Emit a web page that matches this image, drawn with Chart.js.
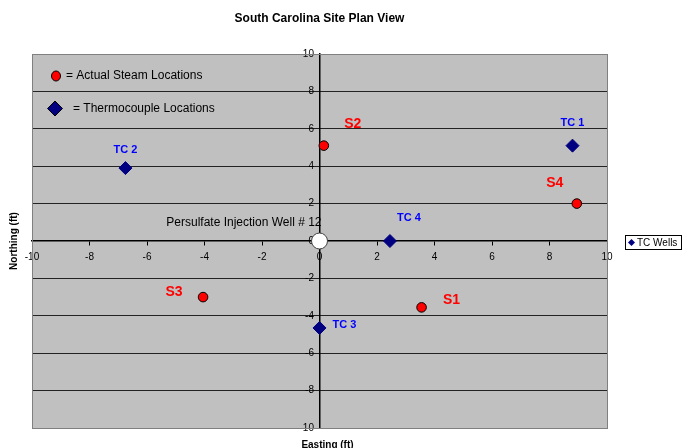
<!DOCTYPE html>
<html>
<head>
<meta charset="utf-8">
<script src="https://cdn.jsdelivr.net/npm/chart.js@4.4.0/dist/chart.umd.min.js"></script>
<style>
  html, body { margin: 0; padding: 0; background: #fff; }
</style>
</head>
<body>
<canvas id="myChart" width="682" height="448"></canvas>
<script>
// thermocouple wells
const tcNames = ['TC 1', 'TC 2', 'TC 3', 'TC 4'];
const tcEast = [8.8, -6.75, 0, 2.45];
const tcNorth = [5.1, 3.9, -4.65, 0];

// actual steam locations
const steamNames = ['S1', 'S2', 'S3', 'S4'];
const steamEast = [3.55, 0.15, -4.05, 8.95];
const steamNorth = [-3.55, 5.1, -3.0, 2.0];

// injection well
const wellName = 'Persulfate Injection Well # 12';
const wellEast = [0];
const wellNorth = [0];

const axisTicks = [-10, -8, -6, -4, -2, 0, 2, 4, 6, 8, 10];

// label offsets in pixels from each point
const tcLabelOffset = [[0, -23], [0, -18], [25, -3], [19, -23]];
const steamLabelOffset = [[30, -7], [29, -21], [-29, -5], [-22, -20]];

function toPoints(xs, ys) {
  return xs.map((x, i) => ({x: x, y: ys[i]}));
}

const plotDecor = {
  id: 'plotDecor',
  beforeDraw(chart) {
    const c = chart.ctx, a = chart.chartArea;
    c.save();
    c.fillStyle = '#C0C0C0';
    c.fillRect(a.left, a.top, a.right - a.left, a.bottom - a.top);
    c.restore();
  },
  afterDraw(chart) {
    const c = chart.ctx, a = chart.chartArea;
    const xs = chart.scales.x, ys = chart.scales.y;
    c.save();
    c.strokeStyle = '#808080';
    c.lineWidth = 1;
    c.strokeRect(a.left + 0.5, a.top + 0.5, a.right - a.left, a.bottom - a.top);

    c.textBaseline = 'middle';
    c.textAlign = 'center';
    c.font = 'bold 11px "Liberation Sans", Arial, sans-serif';
    c.fillStyle = '#0000FF';
    tcNames.forEach((n, i) => {
      c.fillText(n, xs.getPixelForValue(tcEast[i]) + tcLabelOffset[i][0], ys.getPixelForValue(tcNorth[i]) + tcLabelOffset[i][1]);
    });
    c.font = 'bold 14px "Liberation Sans", Arial, sans-serif';
    c.fillStyle = '#FF0000';
    steamNames.forEach((n, i) => {
      c.fillText(n, xs.getPixelForValue(steamEast[i]) + steamLabelOffset[i][0], ys.getPixelForValue(steamNorth[i]) + steamLabelOffset[i][1]);
    });
    c.font = '12px "Liberation Sans", Arial, sans-serif';
    c.fillStyle = '#000';
    c.textAlign = 'right';
    c.fillText(wellName, xs.getPixelForValue(wellEast[0]) + 2, ys.getPixelForValue(wellNorth[0]) - 18);

    // key inside plot
    c.textAlign = 'left';
    c.fillStyle = '#FF0000';
    c.strokeStyle = '#000';
    c.beginPath();
    c.ellipse(a.left + 24, a.top + 22, 4.5, 5, 0, 0, Math.PI * 2);
    c.fill(); c.stroke();
    c.fillStyle = '#000';
    c.fillText('= Actual Steam Locations', a.left + 34, a.top + 22);
    c.fillStyle = '#000080';
    c.beginPath();
    c.moveTo(a.left + 23, a.top + 47);
    c.lineTo(a.left + 30.5, a.top + 54.5);
    c.lineTo(a.left + 23, a.top + 62);
    c.lineTo(a.left + 15.5, a.top + 54.5);
    c.closePath();
    c.fill(); c.stroke();
    c.fillStyle = '#000';
    c.fillText('= Thermocouple Locations', a.left + 41, a.top + 55);

    // axis titles
    c.font = 'bold 10px "Liberation Sans", Arial, sans-serif';
    c.textAlign = 'center';
    c.fillText('Easting (ft)', (a.left + a.right) / 2 + 8, a.bottom + 17);
    c.translate(14, (a.top + a.bottom) / 2);
    c.rotate(-Math.PI / 2);
    c.fillText('Northing (ft)', 0, 0);
    c.restore();

    // series legend box
    c.save();
    c.fillStyle = '#fff';
    c.strokeStyle = '#000';
    c.fillRect(625, 235, 56, 14);
    c.strokeRect(625.5, 235.5, 56, 14);
    c.fillStyle = '#000080';
    c.beginPath();
    c.moveTo(631.5, 239); c.lineTo(635, 242.5); c.lineTo(631.5, 246); c.lineTo(628, 242.5);
    c.closePath(); c.fill();
    c.fillStyle = '#000';
    c.font = '10px "Liberation Sans", Arial, sans-serif';
    c.textBaseline = 'middle';
    c.fillText(chart.data.datasets[0].label, 637, 243);
    c.restore();
  }
};

const tickFont = {family: '"Liberation Sans", Arial, sans-serif', size: 10};

new Chart(document.getElementById('myChart'), {
  type: 'scatter',
  data: {
    datasets: [
      {
        label: 'TC Wells',
        data: toPoints(tcEast, tcNorth),
        pointStyle: 'rectRot',
        pointRadius: 6.5,
        backgroundColor: '#000080',
        borderColor: '#000080',
        borderWidth: 1
      },
      {
        label: 'Steam',
        data: toPoints(steamEast, steamNorth),
        pointStyle: 'circle',
        pointRadius: 4.8,
        backgroundColor: '#FF0000',
        borderColor: '#000',
        borderWidth: 1
      },
      {
        label: 'Well',
        data: toPoints(wellEast, wellNorth),
        pointStyle: 'circle',
        pointRadius: 8,
        backgroundColor: '#FFFFFF',
        borderColor: '#404040',
        borderWidth: 1
      }
    ]
  },
  options: {
    responsive: false,
    animation: false,
    events: [],
    layout: { padding: {left: 32, right: 75, top: 0, bottom: 20} },
    plugins: {
      legend: { display: false },
      tooltip: { enabled: false },
      title: {
        display: true,
        text: 'South Carolina Site Plan View',
        color: '#000',
        font: {family: '"Liberation Sans", Arial, sans-serif', size: 12, weight: 'bold'},
        padding: {top: 11, bottom: 28.6}
      }
    },
    scales: {
      x: {
        type: 'linear',
        min: -10, max: 10,
        position: {y: 0},
        afterBuildTicks: s => { s.ticks = axisTicks.map(v => ({value: v})); },
        ticks: { color: '#000', font: tickFont, maxRotation: 0, autoSkip: false, padding: 6 },
        grid: { drawOnChartArea: false, drawTicks: true, tickLength: 4, color: '#000' },
        border: { color: '#000', width: 1.5 }
      },
      y: {
        type: 'linear',
        min: -10, max: 10,
        position: {x: 0},
        afterBuildTicks: s => { s.ticks = axisTicks.map(v => ({value: v})); },
        ticks: { color: '#000', font: tickFont, autoSkip: false, padding: 1, callback: v => v + '  ' },
        grid: {
          drawTicks: true, tickLength: 4,
          color: c => (Math.abs(c.tick.value) === 10 || c.tick.value === 0) ? 'rgba(0,0,0,0)' : '#222',
          lineWidth: 1
        },
        border: { color: '#000', width: 1.5 }
      }
    }
  },
  plugins: [plotDecor]
});
</script>
</body>
</html>
